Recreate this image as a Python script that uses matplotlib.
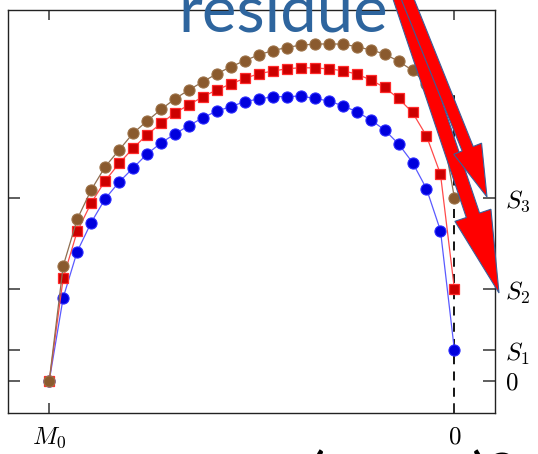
import matplotlib
matplotlib.use("Agg")
import matplotlib.pyplot as plt
from matplotlib.patches import FancyArrow
import numpy as np

plt.rcParams['mathtext.fontset'] = 'cm'
plt.rcParams['font.family'] = 'DejaVu Serif'

# step index along the path, M0 at 0 and 0 at the last step
steps = np.arange(30)

# values
blue_vals = [0.0, 2.73, 4.24, 5.19, 5.97, 6.52, 6.98, 7.44, 7.80, 8.10,
             8.37, 8.63, 8.85, 8.99, 9.16, 9.24, 9.32, 9.32, 9.34, 9.26,
             9.18, 9.02, 8.83, 8.56, 8.23, 7.77, 7.16, 6.30, 4.93, 1.0]
red_vals = [0.0, 3.37, 4.90, 5.83, 6.56, 7.13, 7.63, 8.07, 8.44, 8.79,
            9.05, 9.32, 9.54, 9.74, 9.92, 10.07, 10.16, 10.23, 10.27, 10.26,
            10.23, 10.17, 10.06, 9.87, 9.62, 9.26, 8.80, 8.03, 6.78, 3.0]
brown_vals = [0.0, 3.77, 5.30, 6.26, 7.02, 7.57, 8.12, 8.52, 8.90, 9.25,
              9.54, 9.81, 10.07, 10.30, 10.50, 10.69, 10.83, 10.93, 11.01, 11.04,
              11.05, 11.04, 10.96, 10.85, 10.72, 10.48, 10.18, 9.74, 8.56, 6.0]

ytick_vals = [0, 1, 3, 6]
ytick_labels = ['$0$', '$S_1$', '$S_2$', '$S_3$']
xtick_vals = [0, 29]
xtick_labels = ['$M_0$', '$0$']

fig = plt.figure(figsize=(5.38, 4.54), dpi=100)
ax = fig.add_axes([0.0154, 0.0896, 0.9046, 0.8884])

ax.plot(steps, blue_vals, '-', color='#5a5aff', lw=0.9, zorder=2)
ax.plot(steps, blue_vals, 'o', ms=8, mfc='#0000dd', mec='#2a2aff', mew=0.8, zorder=3)
ax.plot(steps, red_vals, '-', color='#ff4a4a', lw=0.9, zorder=4)
ax.plot(steps, red_vals, 's', ms=7.5, mfc='#cc0000', mec='#ff2a2a', mew=0.9, zorder=5)
ax.plot(steps, brown_vals, '-', color='#8f6e50', lw=0.9, zorder=6)
ax.plot(steps, brown_vals, 'o', ms=8, mfc='#8a5a2e', mec='#9c7248', mew=0.8, zorder=7)

ax.set_xlim(-2.93, 31.9)
ax.set_ylim(-1.06, 12.16)
ax.axvline(29, ymin=0, ymax=(9.6 + 1.06) / 13.22, color='black', lw=1.3,
           dashes=(5, 4), zorder=1)

ax.set_xticks(xtick_vals)
ax.set_xticklabels(xtick_labels, fontsize=18)
ax.set_yticks(ytick_vals)
ax.set_yticklabels(ytick_labels, fontsize=18)
ax.tick_params(axis='x', direction='in', length=7, width=1.1, color='#333333',
               top=True, bottom=True, pad=9)
ax.tick_params(axis='y', direction='in', length=8.6, width=1.1, color='#333333',
               left=True, right=True, labelleft=False, labelright=True, pad=7)
for s in ax.spines.values():
    s.set_linewidth(1.0)
    s.set_color('#222222')

# slide decorations on top
over = fig.add_axes([0, 0, 1, 1], zorder=10)
over.set_xlim(0, 538)
over.set_ylim(454, 0)
over.axis('off')
over.patch.set_alpha(0)

over.text(283, 31, 'residue', color='#2e659e', fontsize=47, family='Lato',
          ha='center', va='baseline')
over.text(316, 500, '(', color='black', fontsize=46, family='Lato',
          ha='center', va='baseline')
over.text(495, 500, ')?', color='black', fontsize=46, family='Lato',
          ha='center', va='baseline')

arrB = FancyArrow(399, -5, 100, 298, width=14, head_width=38, head_length=82,
                  length_includes_head=True, fc='#ff0000', ec='#3a5f9a', lw=0.8)
arrA = FancyArrow(406, -5, 81, 202, width=12, head_width=30, head_length=52,
                  length_includes_head=True, fc='#ff0000', ec='#3a5f9a', lw=0.8)
over.add_patch(arrB)
over.add_patch(arrA)

fig.savefig('out.png', dpi=100)
